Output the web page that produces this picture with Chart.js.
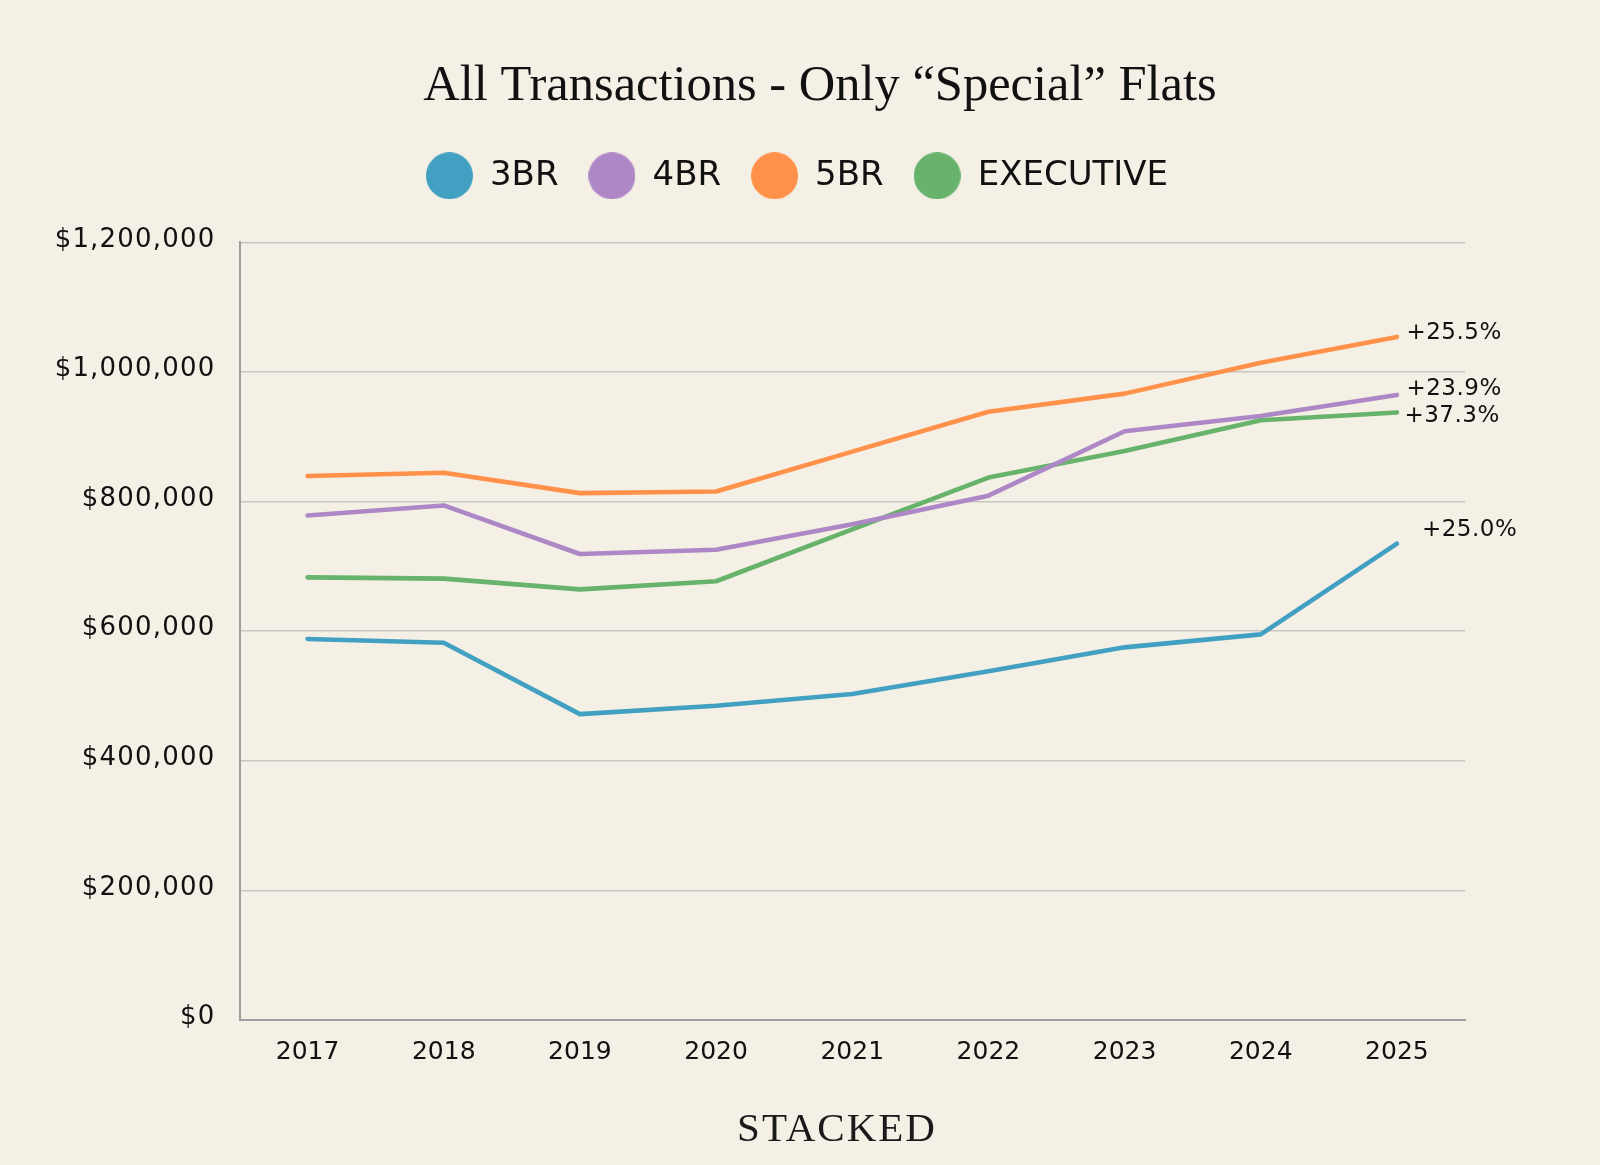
<!DOCTYPE html>
<html>
<head>
<meta charset="utf-8">
<script src="https://cdn.jsdelivr.net/npm/chart.js@4.4.1/dist/chart.umd.min.js"></script>
<style>
  html, body { margin: 0; padding: 0; background: #F4F0E5; }
  canvas { display: block; }
</style>
</head>
<body>
<canvas id="c" width="1600" height="1165"></canvas>
<script>
// ---------- DATA ----------
const years = ['2017', '2018', '2019', '2020', '2021', '2022', '2023', '2024', '2025'];
const values3BR = [588000, 582000, 472000, 485000, 503000, 538000, 575000, 595000, 735000];
const values4BR = [778500, 794000, 719000, 725500, 765000, 809000, 908500, 932000, 964500];
const values5BR = [839500, 844500, 813000, 815500, 877000, 938500, 966500, 1014000, 1054000];
const valuesExec = [683000, 681000, 664500, 677000, 757000, 837000, 878000, 925500, 937500];
const seriesNames = ['3BR', '4BR', '5BR', 'EXECUTIVE'];
const endLabels = ['+25.0%', '+23.9%', '+25.5%', '+37.3%'];
const yTickValues = [0, 200000, 400000, 600000, 800000, 1000000, 1200000];
const titleText = 'All Transactions - Only \u201CSpecial\u201D Flats';
const brandText = 'STACKED';

// ---------- STYLE ----------
const seriesColors = ['#42A0C3', '#AE87C6', '#FF914A', '#67B36B'];
const endLabelOffsets = [[25, -13.5], [9.5, -6], [9.5, -3.5], [7.5, 4]];
const BG = '#F4F0E5';
const INK = '#111111';

Chart.defaults.font.family = '"DejaVu Sans", sans-serif';
Chart.defaults.color = INK;

function makeDot(color, d) {
  const cv = document.createElement('canvas');
  cv.width = d; cv.height = d;
  const g = cv.getContext('2d');
  g.fillStyle = color;
  g.beginPath();
  g.arc(d / 2, d / 2, d / 2, 0, Math.PI * 2);
  g.fill();
  return cv;
}
const dots = seriesColors.map(c => makeDot(c, 47));

const bgPlugin = {
  id: 'bg',
  beforeDraw(chart) {
    const c = chart.ctx;
    c.save();
    c.fillStyle = BG;
    c.fillRect(0, 0, chart.width, chart.height);
    c.restore();
  }
};

const spacerPlugin = {
  id: 'spacer',
  beforeInit(chart) {
    Chart.layouts.addBox(chart, {
      position: 'top',
      weight: 0,
      fullSize: true,
      options: {},
      update(maxWidth) { this.width = maxWidth; this.height = 39.5; },
      isHorizontal() { return true; },
      draw() {}
    });
    Chart.layouts.addBox(chart, {
      position: 'right',
      weight: 0,
      fullSize: false,
      options: {},
      update(maxWidth, maxHeight) { this.width = 135; this.height = maxHeight; },
      isHorizontal() { return false; },
      draw() {}
    });
  }
};

const tweakPlugin = {
  id: 'tweak',
  afterLayout(chart) {
    const y = chart.scales.y;
    if (y && !y._lsWrapped) {
      const orig = y.drawLabels;
      y.drawLabels = function (area) {
        const c = this.ctx;
        c.save();
        c.letterSpacing = '1.2px';
        orig.call(this, area);
        c.restore();
      };
      y._lsWrapped = true;
    }
    const t = chart.titleBlock;
    if (t) { t.left += 20; t.right += 20; }
    const l = chart.legend;
    if (l) { l.left -= 3; l.right -= 3; }
  }
};

const endLabelPlugin = {
  id: 'endLabels',
  afterDatasetsDraw(chart) {
    const c = chart.ctx;
    c.save();
    c.font = '23px "DejaVu Sans"';
    c.letterSpacing = '0.5px';
    c.fillStyle = INK;
    c.textAlign = 'left';
    c.textBaseline = 'middle';
    chart.data.datasets.forEach((ds, i) => {
      const meta = chart.getDatasetMeta(i);
      const pt = meta.data[meta.data.length - 1];
      c.fillText(endLabels[i], pt.x + endLabelOffsets[i][0], pt.y + endLabelOffsets[i][1]);
    });
    c.restore();
  }
};

const brandPlugin = {
  id: 'brand',
  afterDraw(chart) {
    const c = chart.ctx;
    c.save();
    c.font = '41px "Liberation Serif"';
    c.letterSpacing = '2px';
    c.fillStyle = '#1a1a1a';
    c.textAlign = 'center';
    c.textBaseline = 'alphabetic';
    c.fillText(brandText, 837, 1140.5);
    c.restore();
  }
};

const allValues = [values3BR, values4BR, values5BR, valuesExec];

new Chart(document.getElementById('c'), {
  type: 'line',
  data: {
    labels: years,
    datasets: seriesNames.map((name, i) => ({
      label: name,
      data: allValues[i],
      borderColor: seriesColors[i],
      backgroundColor: seriesColors[i],
      borderWidth: 4.6,
      pointRadius: 0,
      pointHoverRadius: 0,
      tension: 0,
      fill: false,
      borderCapStyle: 'round',
      borderJoinStyle: 'round'
    }))
  },
  options: {
    responsive: false,
    animation: false,
    events: [],
    layout: { padding: { left: 0, right: 0, top: 0, bottom: 65 } },
    plugins: {
      tooltip: { enabled: false },
      title: {
        display: true,
        text: titleText,
        color: INK,
        font: { family: '"Liberation Serif", serif', size: 50.5, weight: 'normal', lineHeight: 1.2 },
        padding: { top: 56, bottom: 12.2 }
      },
      legend: {
        display: true,
        position: 'top',
        align: 'center',
        labels: {
          usePointStyle: true,
          pointStyleWidth: 47,
          padding: 30,
          color: INK,
          font: { size: 34 },
          generateLabels(chart) {
            const items = Chart.defaults.plugins.legend.labels.generateLabels(chart);
            items.forEach((it, i) => { it.pointStyle = dots[i]; });
            return items;
          }
        }
      }
    },
    scales: {
      x: {
        type: 'category',
        offset: true,
        grid: { display: false, drawTicks: false },
        border: { display: true, color: '#9E9E9E', width: 2 },
        ticks: { color: INK, font: { size: 25 }, padding: 17, maxRotation: 0, autoSkip: false },
        afterFit(scale) { scale.height = 80; }
      },
      y: {
        min: 0,
        max: 1200000,
        afterBuildTicks(scale) { scale.ticks = yTickValues.map(v => ({ value: v })); },
        grid: { color: '#C8C6C0', lineWidth: 1.5, drawTicks: false },
        border: { display: true, color: '#9E9E9E', width: 2 },
        ticks: {
          color: INK,
          font: { size: 26 },
          padding: 24,
          labelOffset: -2.5,
          callback: (v) => '$' + Number(v).toLocaleString('en-US')
        },
        afterFit(scale) { scale.width = 239.5; }
      }
    }
  },
  plugins: [bgPlugin, spacerPlugin, tweakPlugin, endLabelPlugin, brandPlugin]
});
</script>
</body>
</html>
